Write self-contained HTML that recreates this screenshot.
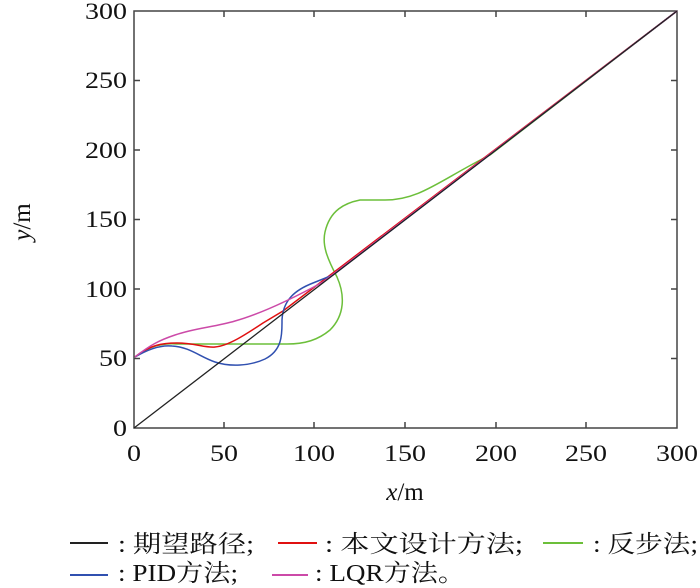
<!DOCTYPE html>
<html><head><meta charset="utf-8"><style>
body{margin:0;background:#fff}
svg{display:block}
text{font-family:"Liberation Serif","Noto Serif CJK SC",serif;fill:#111}
</style></head><body>
<svg width="700" height="588" viewBox="0 0 700 588">
<g stroke="#444" stroke-width="1.5" fill="none">
<rect x="134" y="11" width="543" height="417"/>
<path d="M224,428v-6M314,428v-6M405,428v-6M496,428v-6M586,428v-6M134,358.5h6M134,289h6M134,219.5h6M134,150h6M134,80.5h6M224,11v6M314,11v6M405,11v6M496,11v6M586,11v6M677,358.5h-6M677,289h-6M677,219.5h-6M677,150h-6M677,80.5h-6"/>
</g>
<g font-size="23" text-anchor="end">
<text x="127" y="436" textLength="14" lengthAdjust="spacingAndGlyphs">0</text>
<text x="127" y="366" textLength="28" lengthAdjust="spacingAndGlyphs">50</text>
<text x="127" y="297" textLength="42" lengthAdjust="spacingAndGlyphs">100</text>
<text x="127" y="227" textLength="42" lengthAdjust="spacingAndGlyphs">150</text>
<text x="127" y="158" textLength="42" lengthAdjust="spacingAndGlyphs">200</text>
<text x="127" y="88" textLength="42" lengthAdjust="spacingAndGlyphs">250</text>
<text x="127" y="19" textLength="42" lengthAdjust="spacingAndGlyphs">300</text>
</g>
<g font-size="23">
<text x="127" y="461" textLength="14" lengthAdjust="spacingAndGlyphs">0</text>
<text x="210" y="461" textLength="28" lengthAdjust="spacingAndGlyphs">50</text>
<text x="293" y="461" textLength="42" lengthAdjust="spacingAndGlyphs">100</text>
<text x="384" y="461" textLength="42" lengthAdjust="spacingAndGlyphs">150</text>
<text x="475" y="461" textLength="42" lengthAdjust="spacingAndGlyphs">200</text>
<text x="565" y="461" textLength="42" lengthAdjust="spacingAndGlyphs">250</text>
<text x="656" y="461" textLength="42" lengthAdjust="spacingAndGlyphs">300</text>
</g>
<text x="405" y="500" font-size="25" text-anchor="middle"><tspan font-style="italic">x</tspan>/m</text>
<text transform="translate(30,222) rotate(-90)" font-size="25" text-anchor="middle"><tspan font-style="italic">y</tspan>/m</text>
<g fill="none" stroke-width="1.5">
<path d="M135,357 C150,345 165,343 177,344 L287,344 C305,344 318,340 330,330 C345,315 345,295 337,277 C327,258 322,245 325,232 C330,210 345,203 360,200 L385,200 C420,200 440,180 490,155 L677,11" stroke="#6cbf3a"/>
<path d="M135,357 C150,345 162,343 177,343 C195,343 205,348 215,347 C228,346 245,335 263,323 L283,311 L677,11" stroke="#e01010"/>
<path d="M135,357 C150,348 162,345 172,346 C190,347 200,357 215,362 C230,367 250,366 265,359 C283,350 282,333 282,320 C283,300 295,290 313,283 L333,275 L677,11" stroke="#3050b0"/>
<path d="M135,357 C150,345 160,340 175,335 C195,328 215,327 235,321 C260,314 290,300 323,282 L677,11" stroke="#cc4aa8"/>
<path d="M134,428 L677,11" stroke="#222" stroke-width="1.3"/>
</g>
<g stroke-width="2">
<line x1="70" y1="543" x2="108" y2="543" stroke="#222"/>
<line x1="278" y1="543" x2="317" y2="543" stroke="#e01010"/>
<line x1="543" y1="543" x2="583" y2="543" stroke="#6cbf3a"/>
<line x1="70" y1="575" x2="108" y2="575" stroke="#3050b0"/>
<line x1="272" y1="575" x2="308" y2="575" stroke="#cc4aa8"/>
</g>
<g font-size="24">
<text x="118" y="552" textLength="136" lengthAdjust="spacingAndGlyphs">: 期望路径;</text>
<text x="325" y="552" textLength="198" lengthAdjust="spacingAndGlyphs">: 本文设计方法;</text>
<text x="593" y="552" textLength="105" lengthAdjust="spacingAndGlyphs">: 反步法;</text>
<text x="118" y="581" textLength="120" lengthAdjust="spacingAndGlyphs">: PID方法;</text>
<text x="315" y="581" textLength="150" lengthAdjust="spacingAndGlyphs">: LQR方法。</text>
</g>
</svg>
</body></html>
